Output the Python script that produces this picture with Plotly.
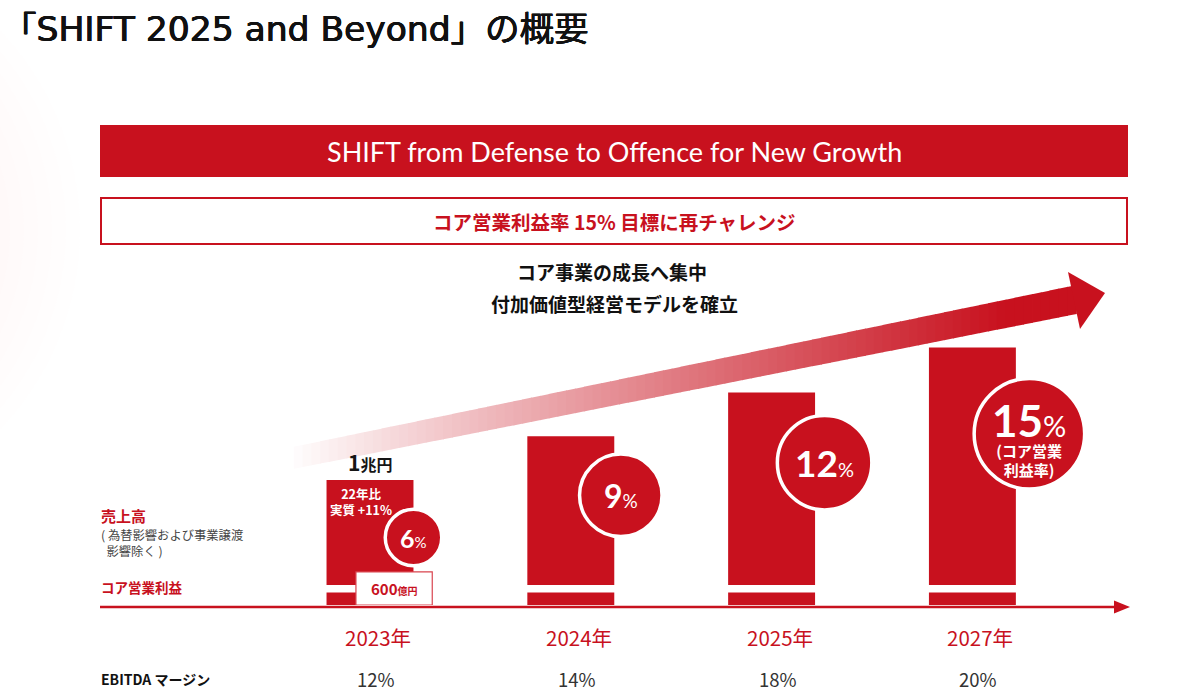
import plotly.graph_objects as go

# ---------------- data ----------------
years = ["2023年", "2024年", "2025年", "2027年"]
revenue = [1.00, 1.35, 1.70, 2.06]          # 売上高 (兆円, schematic bar heights)
core_margin = [6, 9, 12, 15]                 # コア営業利益率 (%)
ebitda_margin = [12, 14, 18, 20]             # EBITDA マージン (%)
revenue_2023_label = "1"                     # 兆円
core_profit_2023_label = "600"               # 億円
growth_2023_label = "+11%"                   # 22年比 実質

# ---------------- style ----------------
W, H = 1200, 700
RED = "#C8111E"
JP = "Noto Sans CJK JP"
NUM = "Lato"
X0, STEP = 370.0, 200.8        # pixel centre of first bar, pixel distance between bars
Y0, PXU = 605.0, 125.0         # pixel baseline of bars, pixels per unit
BAR_W = 0.433
CORE_SEG, GAP = 0.10, 0.06
circle_diam = [58, 84, 96, 112]
circle_yfrac = [0.54, 0.65, 0.67, 0.665]


def px(x):
    return x / W


def py(y):
    return 1 - y / H


idx = list(range(len(years)))

fig = go.Figure()

# core operating profit segment
fig.add_trace(go.Bar(x=idx, y=[CORE_SEG] * len(idx), width=BAR_W, marker_color=RED,
                     marker_line_width=0, name="コア営業利益", hoverinfo="skip"))
# revenue segment (above the white gap)
fig.add_trace(go.Bar(x=idx, y=[r - CORE_SEG - GAP for r in revenue], base=CORE_SEG + GAP,
                     width=BAR_W, marker_color=RED, marker_line_width=0, name="売上高",
                     hoverinfo="skip"))

# margin circles
cx = [i + (43.5 + (d / 2 - 29) / 2) / STEP for i, d in zip(idx, circle_diam)]
cy = [r * f for r, f in zip(revenue, circle_yfrac)]
fig.add_trace(go.Scatter(x=cx, y=cy, mode="markers",
                         marker=dict(size=[d - 1.5 for d in circle_diam], color=RED, opacity=1,
                                     line=dict(color="white", width=3.5)),
                         cliponaxis=False, hoverinfo="skip", name="コア営業利益率"))

shapes = []
# soft pink blob at left edge
cxp, cyp = -210, 230
for k in range(10):
    rr = 290 - 14 * k
    shapes.append(dict(type="circle", xref="paper", yref="paper",
                       x0=px(cxp - rr), x1=px(cxp + rr), y0=py(cyp + rr), y1=py(cyp - rr),
                       fillcolor="rgb(248,200,200)", opacity=0.025, line_width=0, layer="below"))

# banner
shapes.append(dict(type="rect", xref="paper", yref="paper", x0=px(100), x1=px(1128),
                   y0=py(177), y1=py(125), fillcolor=RED, line_width=0, layer="below"))
shapes.append(dict(type="rect", xref="paper", yref="paper", x0=px(101), x1=px(1127),
                   y0=py(244), y1=py(198), fillcolor="white", line=dict(color=RED, width=2),
                   layer="below"))

# gradient arrow shaft
def cline(x):
    return 315 - 0.2022 * (x - 1000)


red_rgb = (200, 17, 30)
xs_start, xs_end = 285.0, 1076.0
N = 90
for k in range(N):
    xa = xs_start + (xs_end - xs_start) * k / N
    xb = xs_start + (xs_end - xs_start) * (k + 1) / N + 0.8
    t = min(1.0, max(0.0, (xa - xs_start) / (1000 - xs_start)))
    f = t ** 0.95
    col = tuple(int(round(255 * (1 - f) + c * f)) for c in red_rgb)
    ha = 11 + 3.5 * (xa - xs_start) / (xs_end - xs_start)
    hb = 11 + 3.5 * (xb - xs_start) / (xs_end - xs_start)
    path = (f"M {px(xa)},{py(cline(xa) - ha)} L {px(xb)},{py(cline(xb) - hb)} "
            f"L {px(xb)},{py(cline(xb) + hb)} L {px(xa)},{py(cline(xa) + ha)} Z")
    shapes.append(dict(type="path", xref="paper", yref="paper", path=path,
                       fillcolor=f"rgb{col}", line_width=0, layer="below"))
# arrow head
shapes.append(dict(type="path", xref="paper", yref="paper",
                   path=f"M {px(1068)},{py(272)} L {px(1105)},{py(293)} L {px(1080)},{py(329)} Z",
                   fillcolor=RED, line_width=0, layer="below"))

# baseline with arrow
shapes.append(dict(type="line", xref="paper", yref="paper", x0=px(100), x1=px(1118),
                   y0=py(607), y1=py(607), line=dict(color=RED, width=2.5), layer="above"))
shapes.append(dict(type="path", xref="paper", yref="paper",
                   path=f"M {px(1114)},{py(600.5)} L {px(1130)},{py(607)} L {px(1114)},{py(613.5)} Z",
                   fillcolor=RED, line_width=0, layer="above"))

# 600億円 box on the 2023 bar
shapes.append(dict(type="rect", xref="x", yref="y", x0=0 - 0.07, x1=0 + 0.31, y0=0, y1=0.265,
                   fillcolor="white", line=dict(color="#D9444E", width=1.2), layer="above"))

ann = []


def add(text, x, y, size, color="#111", family=JP, xanchor="center", xref="paper",
        yref="paper", xshift=0, yshift=0, weight="normal", align="center", shadow="none"):
    ann.append(dict(text=text, x=x, y=y, xref=xref, yref=yref, showarrow=False,
                    xanchor=xanchor, yanchor="middle", xshift=xshift, yshift=yshift,
                    align=align,
                    font=dict(size=size, color=color, family=family, weight=weight,
                              shadow=shadow)))


add("「SHIFT 2025 and Beyond」の概要", px(0), py(29), 34.5, "#111",
    family="DejaVu Sans, Noto Sans CJK JP", xanchor="left",
    shadow="0.5px 0 0 #111, -0.4px 0 0 #111, 0 0.4px 0 #111")
add("SHIFT from Defense to Offence for New Growth", px(614), py(152), 27, "white", family=NUM)
add("コア営業利益率 15% 目標に再チャレンジ", px(614), py(221), 19.5, RED, weight="bold")
add("コア事業の成長へ集中", px(612), py(271), 19, "#111", weight="bold")
add("付加価値型経営モデルを確立", px(614), py(303), 19, "#111", weight="bold")

add("売上高", px(99), py(515), 15, RED, xanchor="left", weight="bold")
add("( 為替影響および事業譲渡<br>  影響除く )", px(99), py(543), 12.3, "#444",
    xanchor="left", align="left")
add("コア営業利益", px(99), py(587), 13.5, RED, xanchor="left", weight="bold")
add("EBITDA マージン", px(99), py(679), 14, "#111", xanchor="left", weight="bold")

for i in idx:
    add(years[i], i, py(637), 20.5, RED, xref="x", xshift=8)
    add(f"{ebitda_margin[i]}%", i, py(679), 18.5, "#333", xref="x", xshift=6)

# 2023 bar labels
add(f"<b>{revenue_2023_label}</b><b><span style='font-size:16px'>兆円</span></b>", 0,
    revenue[0], 21, "#151515", xref="x", yref="y", yshift=18)
add(f"<b>22年比<br>実質 {growth_2023_label}</b>", 0, revenue[0], 12.5, "white",
    xref="x", yref="y", xshift=-9, yshift=-21)
add(f"<b>{core_profit_2023_label}<span style='font-size:10px'>億円</span></b>", 0.12, 0.13,
    15, RED, xref="x", yref="y")

# circle labels
num_size = [25, 32, 37, 44]
pct_ratio = [0.6, 0.6, 0.55, 0.65]
for i in idx[:-1]:
    ps = round(num_size[i] * pct_ratio[i])
    txt = f"<b>{core_margin[i]}</b><span style='font-size:{ps}px'>%</span>"
    add(txt, cx[i], cy[i], num_size[i], "white", family=NUM, xref="x", yref="y")
i = idx[-1]
ps = round(num_size[i] * pct_ratio[i])
txt = (f"<span style='font-family:Lato;font-size:{num_size[i]}px'><b>{core_margin[i]}</b>"
       f"<span style='font-size:{ps}px'>%</span></span><br><b>(コア営業</b><br><b>利益率)</b>")
add(txt, cx[i], cy[i], 15, "white", xref="x", yref="y", yshift=-3)

fig.update_layout(
    width=W, height=H, margin=dict(l=0, r=0, t=0, b=0),
    paper_bgcolor="white", plot_bgcolor="rgba(0,0,0,0)",
    barmode="overlay", showlegend=False,
    xaxis=dict(domain=[(X0 - 0.5 * STEP) / W, (X0 + 3.5 * STEP) / W], range=[-0.5, 3.5],
               visible=False, fixedrange=True),
    yaxis=dict(domain=[py(Y0), py(Y0 - 2.4 * PXU)], range=[0, 2.4], visible=False,
               fixedrange=True),
    shapes=shapes, annotations=ann,
)

fig.write_html("out.html")
